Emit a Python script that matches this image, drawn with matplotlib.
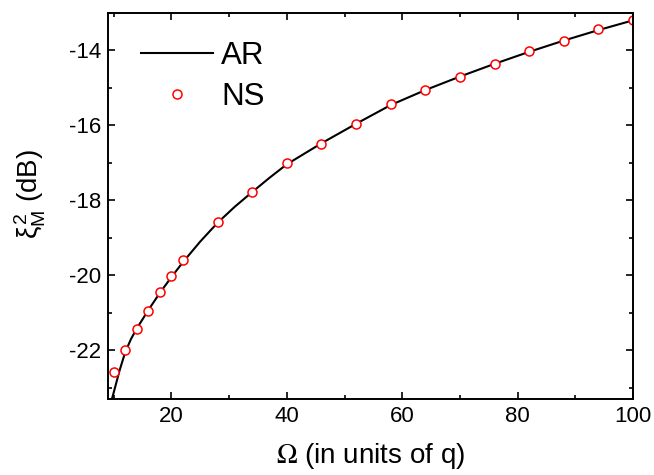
import matplotlib
matplotlib.use('Agg')
import matplotlib.pyplot as plt
from matplotlib.ticker import MultipleLocator

plt.rcParams['font.family'] = ['Liberation Sans', 'DejaVu Sans']
plt.rcParams['axes.unicode_minus'] = False
plt.rcParams['mathtext.fontset'] = 'custom'
plt.rcParams['mathtext.rm'] = 'Liberation Sans'
plt.rcParams['mathtext.it'] = 'Liberation Sans'
plt.rcParams['mathtext.sf'] = 'Liberation Sans'

# AR curve
ar_x = [9.6, 10, 11, 12, 13, 14, 16, 18, 20, 22, 25, 28, 31, 34, 37, 40,
        46, 52, 58, 64, 70, 76, 82, 88, 94, 100]
ar_y = [-23.35, -23.13, -22.55, -22.05, -21.7, -21.42, -20.93, -20.47, -20.05,
        -19.65, -19.1, -18.6, -18.17, -17.78, -17.4, -17.04, -16.48, -15.96,
        -15.46, -15.06, -14.7, -14.36, -14.04, -13.74, -13.46, -13.2]

# NS points
ns_x = [10, 12, 14, 16, 18, 20, 22, 28, 34, 40, 46, 52, 58, 64, 70, 76, 82, 88, 94, 100]
ns_y = [-22.59, -22.0, -21.43, -20.94, -20.45, -20.03, -19.6, -18.59, -17.79, -17.01,
        -16.49, -15.96, -15.44, -15.07, -14.71, -14.36, -14.03, -13.76, -13.44, -13.2]

fig = plt.figure(figsize=(6.54, 4.75), dpi=100)
ax = fig.add_axes([0.165, 0.16, 0.803, 0.813])

ax.plot(ar_x, ar_y, color='black', lw=1.5, label='AR')
ax.plot(ns_x, ns_y, 'o', mfc='white', mec='red', ms=6.5, mew=1.1, label='NS')

ax.set_xlim(9, 100)
ax.set_ylim(-23.3, -13)
ax.xaxis.set_major_locator(MultipleLocator(20))
ax.xaxis.set_minor_locator(MultipleLocator(10))
ax.yaxis.set_major_locator(MultipleLocator(2))
ax.yaxis.set_minor_locator(MultipleLocator(1))
ax.tick_params(which='both', direction='in', top=True, right=True, width=1.2, labelsize=16)
ax.tick_params(which='major', length=5, pad=5)
ax.tick_params(which='minor', length=3)
for s in ax.spines.values():
    s.set_linewidth(1.4)

ax.set_xlabel(r'$\Omega$ (in units of q)', fontsize=20, labelpad=10, math_fontfamily='stix')
ax.set_ylabel(r'$\xi^{2}_{\mathsf{M}}$ (dB)', fontsize=20)
ax.yaxis.set_label_coords(-0.115, 0.53)

ax.legend(loc='upper left', bbox_to_anchor=(0.04, 0.96), frameon=False, fontsize=22.5,
          handlelength=2.3, handletextpad=0.25, labelspacing=0.35, borderaxespad=0)

fig.savefig('out.png', dpi=100)
